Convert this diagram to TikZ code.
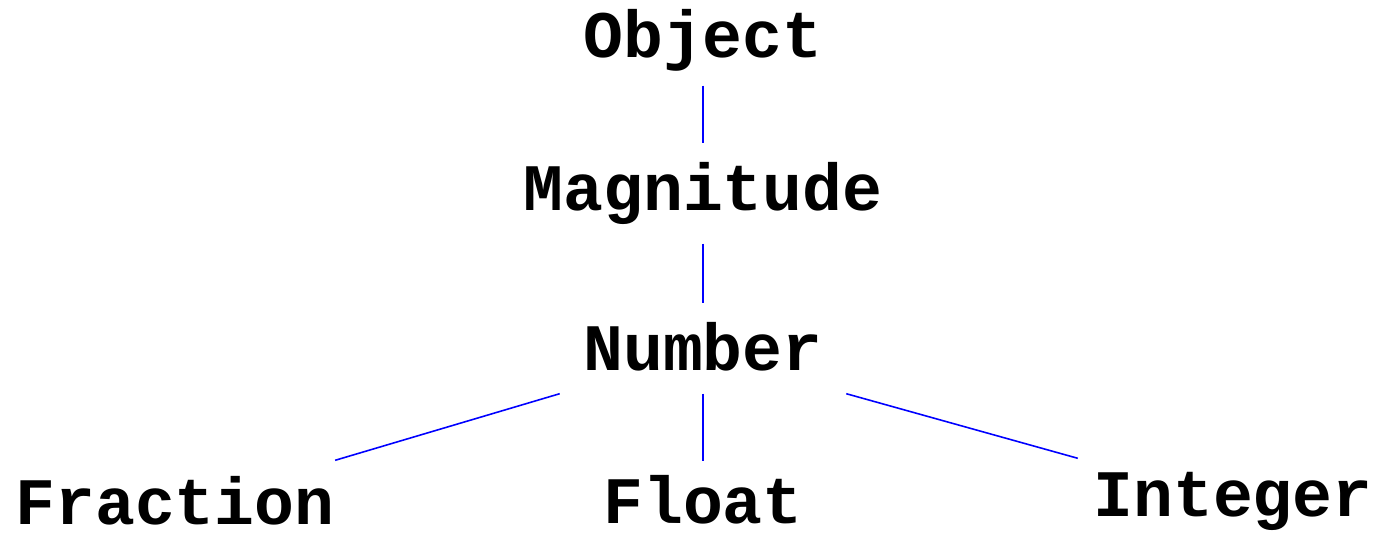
\documentclass[tikz,border=0pt]{standalone}
\usepackage{fontspec}
\usepackage{tikz}
\usetikzlibrary{positioning,calc}
\setmonofont{Liberation Mono}
\definecolor{edgeblue}{HTML}{0000FF}

\begin{document}
\begin{tikzpicture}[
    cls/.style={font=\ttfamily\bfseries\fontsize{18.9}{22}\selectfont, anchor=base,
      inner xsep=0.23cm, inner ysep=0.1cm, text height=0.56cm, text depth=0.18cm},
    link/.style={edgeblue, line width=0.45pt}
  ]
  \useasboundingbox (0,0) rectangle (13.79,-5.34);
  % Class hierarchy
  \node[cls] (object)    at (7.03,-0.57) {Object};
  \node[cls, text depth=0.23cm] (magnitude) at (7.03,-2.10) {Magnitude};
  \node[cls, text depth=0.13cm] (number) at (7.03,-3.70) {Number};
  % Leaves
  \node[cls, inner xsep=0pt, text height=0.53cm] (fraction) at (1.75,-5.24) {Fraction};
  \node[cls, text height=0.51cm] (float) at (7.03,-5.23) {Float};
  \node[cls, inner xsep=0.15cm, text height=0.47cm] (integer) at (12.33,-5.16) {Integer};
  % Edges
  \draw[link] (object.south) -- (magnitude.north);
  \draw[link] (magnitude.south) -- (number.north);
  \draw[link] (number.south west) -- (fraction.north east);
  \draw[link] (number.south) -- (float.north);
  \draw[link] (number.south east) -- (integer.north west);
\end{tikzpicture}
\end{document}
